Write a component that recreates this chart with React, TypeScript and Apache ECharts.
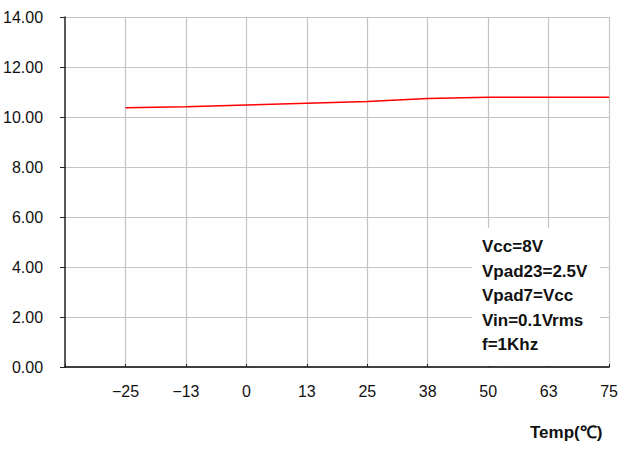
import React, { useEffect, useRef } from "react";
import * as echarts from "echarts";

const temps = [-25, -12.5, 0, 12.5, 25, 37.5, 50, 62.5, 75];
const gain = [10.37, 10.41, 10.48, 10.55, 10.62, 10.74, 10.79, 10.79, 10.79];
const yTicks = { min: 0, max: 14, interval: 2 };
const xTicks = { min: -37.5, max: 75, interval: 12.5 };
const notes = ["Vcc=8V", "Vpad23=2.5V", "Vpad7=Vcc", "Vin=0.1Vrms", "f=1Khz"];
const xName = "Temp(℃)";

const labelFont = "Liberation Sans, Arial, sans-serif";

export default function App() {
  const ref = useRef<HTMLDivElement>(null);
  useEffect(() => {
    const chart = echarts.init(ref.current!, undefined, { renderer: "svg" });
    const roundAway = (v: number) => (v < 0 ? -Math.round(-v) : Math.round(v));
    chart.setOption({
      animation: false,
      backgroundColor: "#ffffff",
      grid: { left: 65, right: 8, top: 17, bottom: 82, containLabel: false },
      xAxis: {
        type: "value",
        z: 3,
        min: xTicks.min,
        max: xTicks.max,
        interval: xTicks.interval,
        axisLine: { show: true, onZero: false, lineStyle: { color: "#000", width: 1.5 } },
        axisTick: { show: true, inside: true, length: 3, lineStyle: { color: "#222" } },
        splitLine: { show: true, showMinLine: false, lineStyle: { color: "#c4c4c4", width: 1.2 } },
        axisLabel: {
          margin: 16,
          color: "#111",
          fontFamily: labelFont,
          fontSize: 16,
          formatter: (v: number) => (Math.abs(v - xTicks.min) < 1e-9 ? "" : String(roundAway(v)).replace("-", "\u2212")),
        },
      },
      yAxis: {
        type: "value",
        z: 2,
        min: yTicks.min,
        max: yTicks.max,
        interval: yTicks.interval,
        axisLine: { show: true, onZero: false, lineStyle: { color: "#222", width: 1.5 } },
        axisTick: { show: true, length: 5, lineStyle: { color: "#222" } },
        splitLine: { show: true, showMinLine: false, lineStyle: { color: "#c4c4c4", width: 1.2 } },
        axisLabel: {
          margin: 22,
          color: "#111",
          fontFamily: labelFont,
          fontSize: 16,
          formatter: (v: number) => v.toFixed(2),
        },
      },
      series: [
        {
          type: "line",
          z: 4,
          data: temps.map((t, i) => [t, gain[i]]),
          symbol: "none",
          lineStyle: { color: "#ff0000", width: 1.5 },
        },
      ],
      graphic: {
        elements: [
          {
            type: "rect",
            z: 50,
            shape: { x: 472, y: 228, width: 128, height: 138 },
            style: { fill: "#ffffff" },
          },
          ...notes.map((n, i) => ({
            type: "text",
            z: 60,
            left: 482,
            top: 238 + i * 24.5,
            style: { text: n, fill: "#111", fontFamily: labelFont, fontWeight: "bold", fontSize: 17 },
          })),
          {
            type: "text",
            z: 60,
            left: 530,
            top: 424,
            style: { text: xName, fill: "#111", fontFamily: labelFont, fontWeight: "bold", fontSize: 17 },
          },
        ],
      },
    });
    return () => chart.dispose();
  }, []);
  return <div ref={ref} style={{ position: "absolute", left: 0, top: 0, width: 621, height: 449 }} />;
}
